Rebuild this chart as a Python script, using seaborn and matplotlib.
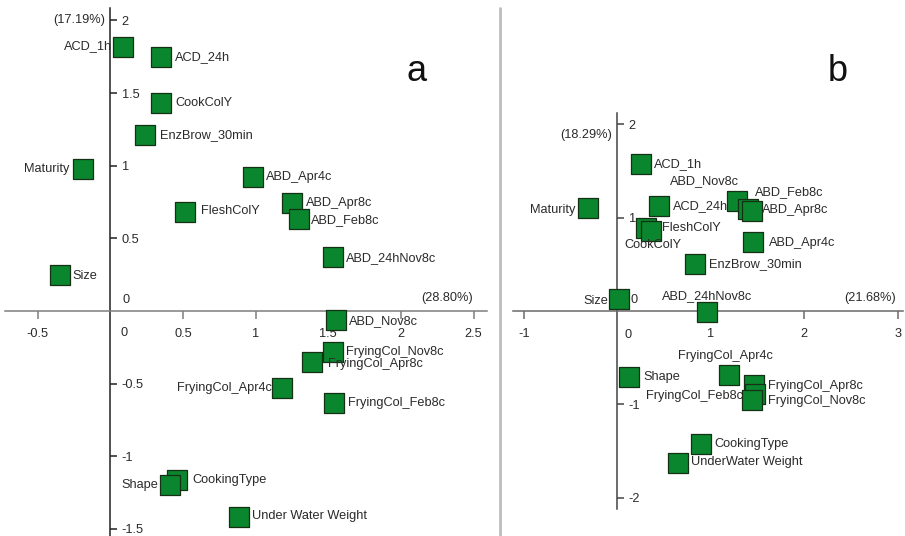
import numpy as np
import pandas as pd
import matplotlib
matplotlib.use("Agg")
import matplotlib.pyplot as plt
from matplotlib.lines import Line2D
import seaborn as sns

# ---------------- data ----------------
labels_a = ["ACD_1h", "ACD_24h", "CookColY", "EnzBrow_30min", "Maturity",
            "ABD_Apr4c", "ABD_Apr8c", "ABD_Feb8c", "FleshColY", "ABD_24hNov8c",
            "Size", "ABD_Nov8c", "FryingCol_Nov8c", "FryingCol_Apr8c",
            "FryingCol_Apr4c", "FryingCol_Feb8c", "CookingType", "Shape",
            "Under Water Weight"]
x_a = [0.09, 0.35, 0.35, 0.24, -0.19, 0.98, 1.25, 1.30, 0.51, 1.53,
       -0.35, 1.55, 1.53, 1.39, 1.18, 1.54, 0.46, 0.41, 0.885]
y_a = [1.82, 1.75, 1.43, 1.21, 0.98, 0.92, 0.745, 0.63, 0.68, 0.37,
       0.25, -0.06, -0.28, -0.35, -0.53, -0.63, -1.16, -1.20, -1.42]

labels_b = ["ACD_1h", "Maturity", "ACD_24h", "ABD_Feb8c", "ABD_Nov8c",
            "ABD_Apr8c", "CookColY", "FleshColY", "ABD_Apr4c", "EnzBrow_30min",
            "Size", "ABD_24hNov8c", "Shape", "FryingCol_Apr4c",
            "FryingCol_Apr8c", "FryingCol_Feb8c", "FryingCol_Nov8c",
            "CookingType", "UnderWater Weight"]
x_b = [0.25, -0.32, 0.45, 1.285, 1.40, 1.44, 0.31, 0.36, 1.45, 0.83,
       0.02, 0.96, 0.125, 1.19, 1.46, 1.475, 1.445, 0.90, 0.645]
y_b = [1.57, 1.10, 1.12, 1.18, 1.09, 1.07, 0.885, 0.86, 0.74, 0.50,
       0.125, -0.01, -0.71, -0.685, -0.79, -0.89, -0.95, -1.42, -1.63]

xticks_a = [-0.5, 0.5, 1, 1.5, 2, 2.5]
xticklabels_a = ["-0.5", "0.5", "1", "1.5", "2", "2.5"]
yticks_a = [2, 1.5, 1, 0.5, -0.5, -1, -1.5]
yticklabels_a = ["2", "1.5", "1", "0.5", "-0.5", "-1", "-1.5"]
xticks_b = [-1, 1, 2, 3]
xticklabels_b = ["-1", "1", "2", "3"]
yticks_b = [2, 1, -1, -2]
yticklabels_b = ["2", "1", "-1", "-2"]

pct_a = ("(28.80%)", "(17.19%)")
pct_b = ("(21.68%)", "(18.29%)")

# ---------------- label placement (pixels offset, alignment) ----------------
R, L = "left", "right"
off_a = {
    "ACD_1h": (-11, 0, L), "ACD_24h": (14, 0, R), "CookColY": (14, 0, R),
    "EnzBrow_30min": (15, 0, R), "Maturity": (-13, 0, L), "ABD_Apr4c": (13, 0, R),
    "ABD_Apr8c": (14, 0, R), "ABD_Feb8c": (12, -1, R), "FleshColY": (16, 1, R),
    "ABD_24hNov8c": (13, -1, R), "Size": (13, -1, R), "ABD_Nov8c": (13, -1, R),
    "FryingCol_Nov8c": (13, 0, R), "FryingCol_Apr8c": (16, -2, R),
    "FryingCol_Apr4c": (-10, 0, L), "FryingCol_Feb8c": (14, 0, R),
    "CookingType": (15, 0, R), "Shape": (-12, 0, L), "Under Water Weight": (13, 1, R),
}
off_b = {
    "ACD_1h": (13, 0, R), "Maturity": (-12, -2, L), "ACD_24h": (14, 0, R),
    "ABD_Feb8c": (18, 9, R), "ABD_Nov8c": (-44, 28, "center"), "ABD_Apr8c": (10, 1, R),
    "CookColY": (7, -17, "center"), "FleshColY": (11, 3, R), "ABD_Apr4c": (16, -1, R),
    "EnzBrow_30min": (14, 0, R), "Size": (-11, -2, L), "ABD_24hNov8c": (0, 16, "center"),
    "Shape": (14, 0, R), "FryingCol_Apr4c": (-3, 19, "center"),
    "FryingCol_Apr8c": (14, -1, R), "FryingCol_Feb8c": (-12, -2, L),
    "FryingCol_Nov8c": (16, -1, R), "CookingType": (13, 0, R),
    "UnderWater Weight": (13, 1, R),
}

sns.set_style("white")
plt.rcParams["font.family"] = ["Liberation Sans", "DejaVu Sans"]
plt.rcParams["axes.unicode_minus"] = False

W, H = 905, 536
DPI = 100
fig = plt.figure(figsize=(W / DPI, H / DPI), dpi=DPI)
PX = 72.0 / DPI  # points per pixel

GREEN = "#0a862e"
EDGE = "#163016"
TXT = "#2a2a2a"
FS = 9.2


def panel(rect, df, offs, xlim, ylim, xb, yb, xt, xtl, yt, ytl, pct_x, pct_y,
          zero_x_off, zero_y_off, letter, letter_xy, xcol, ycol):
    ax = fig.add_axes(rect)
    sns.scatterplot(data=df, x="x", y="y", marker="s", s=215, color=GREEN,
                    edgecolor=EDGE, linewidth=0.9, ax=ax, zorder=3, legend=False)
    ax.set_xlim(*xlim)
    ax.set_ylim(*ylim)
    ax.set_xlabel("")
    ax.set_ylabel("")
    ax.patch.set_alpha(0)
    for s in ("left", "top"):
        ax.spines[s].set_visible(False)
    ax.spines["bottom"].set_position(("data", 0))
    ax.spines["bottom"].set_bounds(*xb)
    ax.spines["bottom"].set_color(xcol)
    ax.spines["bottom"].set_linewidth(1.1)
    ax.spines["right"].set_position(("data", 0))
    ax.spines["right"].set_bounds(*yb)
    ax.spines["right"].set_color(ycol)
    ax.spines["right"].set_linewidth(1.1)
    ax.yaxis.tick_right()
    ax.xaxis.tick_bottom()
    ax.set_xticks(xt)
    ax.set_xticklabels(xtl)
    ax.set_yticks(yt)
    ax.set_yticklabels(ytl)
    ax.tick_params(axis="x", direction="out", length=6, width=1.1, color=xcol,
                   pad=6, labelsize=FS, labelcolor=TXT)
    ax.tick_params(axis="y", direction="out", length=5, width=1.1, color=ycol,
                   pad=3, labelsize=FS, labelcolor=TXT)
    for lab, xx, yy in zip(df["label"], df["x"], df["y"]):
        dx, dy, ha = offs[lab]
        ax.annotate(lab, (xx, yy), xytext=(dx * PX, dy * PX),
                    textcoords="offset points", ha=ha, va="center",
                    fontsize=FS, color=TXT, zorder=4)
    # zero labels
    ax.annotate("0", (0, 0), xytext=(zero_x_off[0] * PX, zero_x_off[1] * PX),
                textcoords="offset points", ha="center", va="center",
                fontsize=FS, color=TXT)
    ax.annotate("0", (0, 0), xytext=(zero_y_off[0] * PX, zero_y_off[1] * PX),
                textcoords="offset points", ha="center", va="center",
                fontsize=FS, color=TXT)
    # percentage labels
    ax.annotate(pct_x[0], (pct_x[1], 0), xytext=(0, 13 * PX),
                textcoords="offset points", ha="center", va="center",
                fontsize=FS, color=TXT)
    ax.annotate(pct_y[0], (0, pct_y[1]), xytext=(-5 * PX, 0),
                textcoords="offset points", ha="right", va="center",
                fontsize=FS, color=TXT)
    fig.text(letter_xy[0] / W, 1 - letter_xy[1] / H, letter, fontsize=26,
             ha="center", va="center", color="#111111")
    return ax


df_a = pd.DataFrame({"label": labels_a, "x": x_a, "y": y_a})
df_b = pd.DataFrame({"label": labels_b, "x": x_b, "y": y_b})

# panel a: 0 at x=110.4px, y=311px; 145.3 px per unit
sa = 145.3
panel([0, 0, 500 / W, 1], df_a, off_a,
      (-110.4 / sa, (500 - 110.4) / sa), (-(536 - 311) / sa, 311 / sa),
      ((5 - 110.4) / sa, (487 - 110.4) / sa), (-(536 - 311) / sa, (311 - 8) / sa),
      xticks_a, xticklabels_a, yticks_a, yticklabels_a,
      (pct_a[0], 2.32), (pct_a[1], 2.0),
      (14, -22), (16, 11), "a", (417, 72), "#7d7d7d", "#222222")

# panel b: 0 at x=617.4px, y=311px; 93.4 px per unit
sb = 93.4
panel([500 / W, 0, 405 / W, 1], df_b, off_b,
      ((500 - 617.4) / sb, (905 - 617.4) / sb), (-(536 - 311) / sb, 311 / sb),
      ((513 - 617.4) / sb, (903 - 617.4) / sb), (-(509 - 311) / sb, (311 - 113) / sb),
      xticks_b, xticklabels_b, yticks_b, yticklabels_b,
      (pct_b[0], 2.71), (pct_b[1], 1.88),
      (11, -24), (17, 11), "b", (838, 72), "#6a6a6a", "#444444")

fig.add_artist(Line2D([500 / W, 500 / W], [0, 1 - 8 / H], transform=fig.transFigure,
                      color="#bdbdbd", linewidth=2.0))

fig.savefig("out.png", dpi=DPI)
